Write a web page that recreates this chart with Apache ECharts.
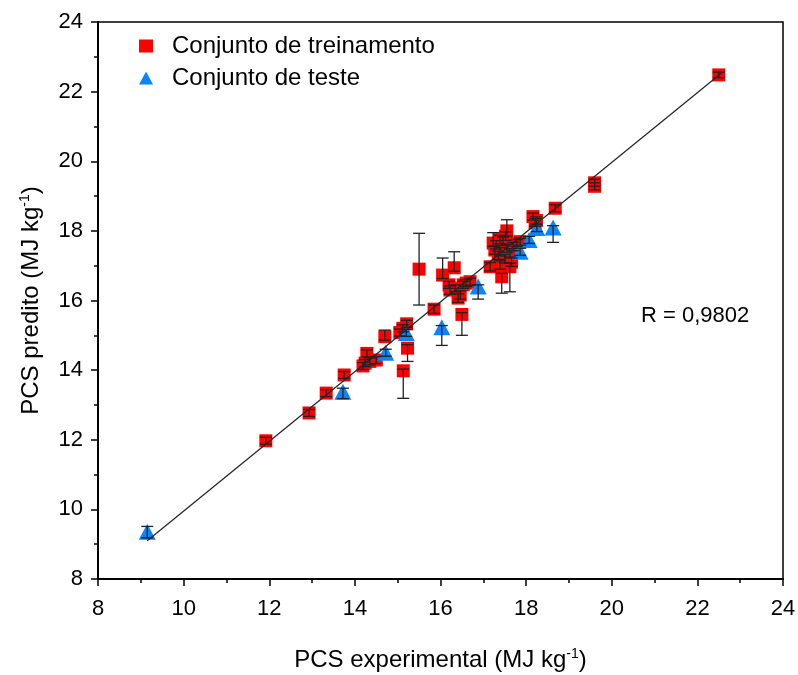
<!DOCTYPE html>
<html>
<head>
<meta charset="utf-8">
<script src="https://cdn.jsdelivr.net/npm/echarts@6/dist/echarts.min.js"></script>
<style>
  html, body { margin: 0; padding: 0; background: #fff; }
  #chart { width: 798px; height: 675px; }
</style>
</head>
<body>
<div id="chart"></div>
<script>
// training set: x (experimental), y (predicted), error below / above
var trainX = [22.5, 19.6, 19.6, 18.68, 18.16, 18.21, 18.24, 17.86, 17.78, 17.7, 17.55, 17.52, 17.46, 17.39, 17.23, 17.27, 17.39, 17.62, 17.5, 17.16,
  17.39, 17.43, 17.62, 17.66, 17.35, 17.55, 16.69, 16.53, 16.46, 16.41, 16.22, 16.2, 16.32, 16.05, 16.5, 15.5, 15.85, 15.21, 15.05, 15.12,
  15.23, 15.13, 14.7, 14.5, 14.28, 14.24, 14.19, 14.35, 13.75, 13.33, 12.93, 11.92, 16.6, 16.35, 17.3];
var trainY = [22.48, 19.38, 19.28, 18.65, 18.41, 18.23, 18.3, 17.69, 17.65, 17.55, 18.0, 17.85, 17.7, 17.75, 17.65, 17.45, 17.4, 17.37, 17.2, 16.97,
  17.02, 16.68, 16.97, 17.1, 17.3, 17.5, 16.54, 16.45, 16.16, 16.07, 16.3, 16.45, 16.94, 16.73, 15.6, 16.9, 15.75, 15.33, 15.08, 15.2,
  14.63, 13.98, 14.96, 14.29, 14.48, 14.2, 14.12, 14.25, 13.86, 13.34, 12.77, 11.97, 16.5, 16.35, 17.6];
var trainLo = [0.08, 0.1, 0.1, 0.1, 0.1, 0.1, 0.1, 0.1, 0.1, 0.12, 0.15, 0.12, 0.12, 0.12, 0.1, 0.12, 0.12, 0.12, 0.12, 0.12,
  0.12, 0.47, 0.72, 0.12, 0.12, 0.12, 0.1, 0.1, 0.12, 0.12, 0.12, 0.1, 0.1, 0.1, 0.6, 1.03, 0.12, 0.1, 0.1, 0.1,
  0.38, 0.79, 0.1, 0.1, 0.1, 0.1, 0.1, 0.1, 0.1, 0.1, 0.1, 0.1, 0.1, 0.1, 0.12];
var trainHi = [0.08, 0.1, 0.1, 0.1, 0.1, 0.12, 0.1, 0.1, 0.1, 0.12, 0.32, 0.12, 0.12, 0.12, 0.3, 0.12, 0.12, 0.12, 0.12, 0.12,
  0.12, 0.1, 0.1, 0.12, 0.12, 0.12, 0.1, 0.1, 0.12, 0.12, 0.12, 0.1, 0.46, 0.49, 0.05, 1.03, 0.12, 0.1, 0.1, 0.1,
  0.1, 0.05, 0.19, 0.1, 0.1, 0.1, 0.1, 0.1, 0.1, 0.1, 0.1, 0.1, 0.1, 0.1, 0.12];

// test set
var testX = [9.15, 13.72, 14.72, 15.2, 16.03, 16.88, 17.86, 18.07, 18.25, 18.63];
var testY = [9.36, 13.38, 14.5, 15.07, 15.23, 16.4, 17.4, 17.74, 18.08, 18.1];
var testLo = [0.18, 0.2, 0.1, 0.1, 0.52, 0.36, 0.1, 0.1, 0.1, 0.43];
var testHi = [0.15, 0.1, 0.1, 0.1, 0.05, 0.05, 0.1, 0.1, 0.1, 0.05];

// fitted line ends
var lineX = [9.15, 22.55];
var lineY = [9.1, 22.52];

function pts(xs, ys) {
  return xs.map(function (x, i) { return [x, ys[i]]; });
}
function bars(xs, ys, lo, hi) {
  return xs.map(function (x, i) { return [x, ys[i] - lo[i], ys[i] + hi[i]]; });
}

function renderErr(params, api) {
  var x = api.value(0);
  var a = api.coord([x, api.value(1)]);
  var b = api.coord([x, api.value(2)]);
  var w = 6;
  var st = { stroke: '#222', lineWidth: 1.3 };
  return {
    type: 'group',
    children: [
      { type: 'line', shape: { x1: a[0], y1: a[1], x2: b[0], y2: b[1] }, style: st },
      { type: 'line', shape: { x1: a[0] - w, y1: a[1], x2: a[0] + w, y2: a[1] }, style: st },
      { type: 'line', shape: { x1: b[0] - w, y1: b[1], x2: b[0] + w, y2: b[1] }, style: st }
    ]
  };
}

var font = 'Liberation Sans, Arial, sans-serif';
var nameRich = {
  n: { fontSize: 24, fontFamily: font, color: '#000' },
  sup: { fontSize: 14, fontFamily: font, color: '#000', verticalAlign: 'bottom', padding: [0, 0, 13, 0] }
};

var chart = echarts.init(document.getElementById('chart'));
chart.setOption({
  backgroundColor: '#fff',
  animation: false,
  grid: {
    left: 98, right: 15, top: 22, bottom: 96, show: true, borderColor: '#000', borderWidth: 1.5,
    outerBoundsMode: 'none'
  },
  legend: {
    orient: 'vertical', left: 134, top: 29, itemGap: 8, itemWidth: 14, itemHeight: 13,
    textStyle: { fontSize: 24, fontFamily: font, color: '#000', padding: [0, 0, 0, 14] },
    data: [
      { name: 'Conjunto de treinamento', icon: 'rect', itemStyle: { color: '#ff0000', opacity: 1 } },
      { name: 'Conjunto de teste', icon: 'triangle', itemStyle: { color: '#0a84ff', opacity: 1 } }
    ]
  },
  xAxis: {
    type: 'value', min: 8, max: 24, interval: 2,
    name: '{n|PCS experimental (MJ kg}{sup|-1}{n|)}', nameLocation: 'middle', nameGap: 68,
    nameTextStyle: { rich: nameRich },
    axisLine: { lineStyle: { color: '#000', width: 2 } },
    axisTick: { inside: false, length: 7, lineStyle: { color: '#000', width: 1.5 } },
    minorTick: { show: true, splitNumber: 2, length: 4, lineStyle: { color: '#000', width: 1.5 } },
    axisLabel: { fontSize: 22, fontFamily: font, color: '#000', margin: 19 },
    splitLine: { show: false }
  },
  yAxis: {
    type: 'value', min: 8, max: 24, interval: 2,
    name: '{n|PCS predito (MJ kg}{sup|-1}{n|)}', nameLocation: 'middle', nameGap: 53,
    nameTextStyle: { rich: nameRich },
    axisLine: { lineStyle: { color: '#000', width: 2 } },
    axisTick: { inside: false, length: 7, lineStyle: { color: '#000', width: 1.5 } },
    minorTick: { show: true, splitNumber: 2, length: 4, lineStyle: { color: '#000', width: 1.5 } },
    axisLabel: { fontSize: 22, fontFamily: font, color: '#000', margin: 15 },
    splitLine: { show: false }
  },
  graphic: [
    { type: 'text', left: 641, top: 305, style: { text: 'R = 0,9802', fontSize: 22, fontFamily: font, fill: '#000' } }
  ],
  series: [
    {
      name: 'Conjunto de treinamento', type: 'scatter', symbol: 'rect', symbolSize: 13,
      itemStyle: { color: '#ff0000', opacity: 1 }, data: pts(trainX, trainY), z: 2
    },
    {
      name: 'Conjunto de teste', type: 'scatter', symbol: 'triangle', symbolSize: [17, 16],
      itemStyle: { color: '#0a84ff', opacity: 1 }, data: pts(testX, testY), z: 3
    },
    { type: 'custom', renderItem: renderErr, data: bars(trainX, trainY, trainLo, trainHi), z: 4, silent: true },
    { type: 'custom', renderItem: renderErr, data: bars(testX, testY, testLo, testHi), z: 4, silent: true },
    {
      type: 'line', data: pts(lineX, lineY), symbol: 'none', z: 5, silent: true,
      lineStyle: { color: '#222', width: 1.2 }
    }
  ]
});
</script>
</body>
</html>
